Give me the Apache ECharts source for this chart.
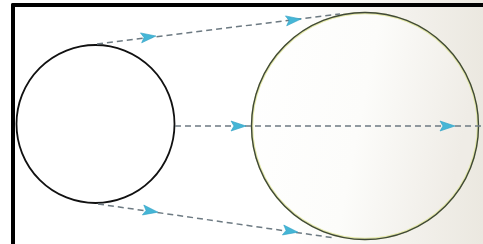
<!DOCTYPE html>
<html>
<head>
<meta charset="utf-8">
<script src="https://cdn.jsdelivr.net/npm/echarts@6/dist/echarts.min.js"></script>
<style>
  html, body { margin: 0; padding: 0; background: #fff; }
  #chart { width: 483px; height: 244px; }
</style>
</head>
<body>
<div id="chart"></div>
<script>
// circles: small (left) and large (right), in plot units
const circleX = [82.5, 352];
const circleY = [119, 121];
const circleR = [79, 113];

// dashed rays from the small circle to the large one
const lineStarts = [[84, 39], [162, 121], [85, 199]];
const lineEnds = [[327, 9], [468, 121], [322, 233]];

// arrowheads on the rays: [x, y, ray index]
const arrowPts = [[135, 32, 0], [280, 15, 0], [225, 121, 1], [434, 121, 1], [137, 206, 2], [277, 226, 2]];

const chart = echarts.init(document.getElementById('chart'));

function circleItem(params, api) {
    const i = params.dataIndex;
    const c = api.coord([api.value(0), api.value(1)]);
    const r = api.size([api.value(2), 0])[0];
    if (i === 0) {
        return {
            type: 'circle',
            shape: {cx: c[0], cy: c[1], r: r},
            style: {fill: 'transparent', stroke: '#111', lineWidth: 1.8}
        };
    }
    return {
        type: 'group',
        children: [
            {
                type: 'circle',
                shape: {cx: c[0], cy: c[1], r: r},
                style: {
                    fill: new echarts.graphic.LinearGradient(0, 0, 1, 0.2, [
                        {offset: 0, color: '#ffffff'},
                        {offset: 0.55, color: '#fcfcfa'},
                        {offset: 1, color: '#efece6'}
                    ]),
                    stroke: '#e4e8a8', lineWidth: 2.5
                }
            },
            {
                type: 'circle',
                shape: {cx: c[0], cy: c[1], r: r + 0.5},
                style: {fill: 'transparent', stroke: '#3f4838', lineWidth: 1.4}
            }
        ]
    };
}

function arrowItem(params, api) {
    const k = api.value(2);
    const a = api.coord(lineStarts[k]);
    const b = api.coord(lineEnds[k]);
    const p = api.coord([api.value(0), api.value(1)]);
    const len = Math.hypot(b[0] - a[0], b[1] - a[1]);
    const dx = (b[0] - a[0]) / len, dy = (b[1] - a[1]) / len;
    const nx = -dy, ny = dx;
    const pt = (f, s) => [p[0] + dx * f + nx * s, p[1] + dy * f + ny * s];
    return {
        type: 'polygon',
        shape: {points: [pt(8, 0), pt(-7, 5), pt(-4, 0), pt(-7, -5)]},
        style: {fill: '#45b6d6', stroke: '#2f9fc4', lineWidth: 0.6}
    };
}

const option = {
    animation: false,
    backgroundColor: new echarts.graphic.LinearGradient(0, 0, 1, 0, [
        {offset: 0, color: '#ffffff'},
        {offset: 0.6, color: '#ffffff'},
        {offset: 1, color: '#ebe8e0'}
    ]),
    grid: {left: 13, top: 5, width: 470, height: 239},
    xAxis: {
        type: 'value', min: 0, max: 470, position: 'top',
        axisLine: {show: true, onZero: false, lineStyle: {color: '#000', width: 4}},
        axisTick: {show: false}, axisLabel: {show: false}, splitLine: {show: false}
    },
    yAxis: {
        type: 'value', min: 0, max: 239, inverse: true,
        axisLine: {show: true, onZero: false, lineStyle: {color: '#000', width: 4}},
        axisTick: {show: false}, axisLabel: {show: false}, splitLine: {show: false}
    },
    series: [
        {
            type: 'custom',
            renderItem: circleItem,
            data: circleX.map((x, i) => [x, circleY[i], circleR[i]]),
            clip: false,
            z: 1
        },
        {
            type: 'lines',
            coordinateSystem: 'cartesian2d',
            lineStyle: {color: '#6d7a82', width: 1.5, type: [6, 4], opacity: 1},
            data: lineStarts.map((s, i) => ({coords: [s, lineEnds[i]]})),
            z: 2
        },
        {
            type: 'custom',
            renderItem: arrowItem,
            data: arrowPts,
            clip: false,
            z: 3
        }
    ]
};
chart.setOption(option);
</script>
</body>
</html>
